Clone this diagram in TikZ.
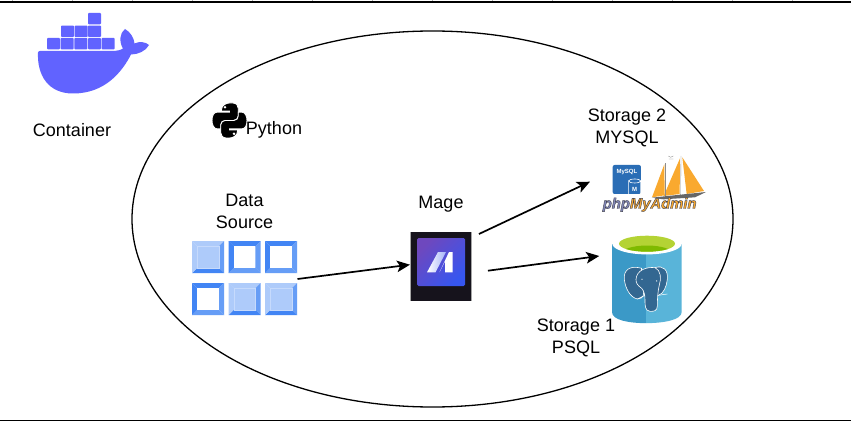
\documentclass[tikz,border=0pt]{standalone}
\usepackage{fontspec}
\setmainfont{Liberation Sans}
\usetikzlibrary{arrows.meta,calc,shapes.geometric}
\definecolor{dockerblue}{HTML}{6163FF}
\definecolor{gA}{HTML}{4285F4}
\definecolor{gB}{HTML}{669DF6}
\definecolor{gC}{HTML}{AECBFA}
\definecolor{gD}{HTML}{C6DAFC}
\definecolor{mageblack}{HTML}{16131C}
\definecolor{mageA}{HTML}{6E48BE}
\definecolor{mageB}{HTML}{3656F0}
\definecolor{pgleft}{HTML}{3B99C7}
\definecolor{pgright}{HTML}{59B4D9}
\definecolor{pgtop}{HTML}{B4D334}
\definecolor{pgtopd}{HTML}{7FBA00}
\definecolor{pgel}{HTML}{336791}
\definecolor{sail}{HTML}{F9A92F}
\definecolor{mysqlblue}{HTML}{2A6DB5}
\newcommand{\bevelsq}[7]{%
  \fill[#3] (#1,#2) -- ++(32,0) -- ++(-5.3,5.3) -- ++(-21.4,0) -- cycle;
  \fill[#4] (#1+32,#2) -- ++(0,32) -- ++(-5.3,-5.3) -- ++(0,-21.4) -- cycle;
  \fill[#5] (#1+32,#2+32) -- ++(-32,0) -- ++(5.3,-5.3) -- ++(21.4,0) -- cycle;
  \fill[#6] (#1,#2+32) -- ++(0,-32) -- ++(5.3,5.3) -- ++(0,21.4) -- cycle;
  \fill[#7] (#1+5.3,#2+5.3) rectangle ++(21.4,21.4);
}
\newcommand{\outlined}{\special{pdf:code 2 Tr 0.45 w 0.27 0.27 0.32 RG}}
\tikzset{
  lbl/.style={font=\fontsize{18}{22}\selectfont,align=center,inner sep=0pt,text=black},
  conn/.style={draw=black,line width=1.7pt,-{Stealth[length=13pt,width=11.5pt,inset=3pt]}},
  rule/.style={draw=black,line width=1.7pt},
  icon/.style={inner sep=0pt,outer sep=0pt,draw=none},
}
\begin{document}
\begin{tikzpicture}[x=1pt,y=-1pt]
\useasboundingbox (0,0) rectangle (851,422);
\fill[white] (0,0) rectangle (851,422);
% rules
\draw[rule] (0,1.9) -- (851,1.9);
\draw[rule] (0,420.6) -- (851,420.6);
\foreach \t in {12,72,...,852} \draw[gray!60,line width=.5pt] (\t,0) -- (\t,1);
% ellipse
\node[icon,draw=black,line width=1.3pt,ellipse,minimum width=601pt,minimum height=376pt] (pod) at (432.5,219) {};
% docker
\begin{scope}
\foreach \a/\b in {88/13, 61/25.7,74.6/25.7,88/25.7, 47/38,60.6/38,74.4/38,88/38,101.6/38}
  \fill[dockerblue,rounded corners=.8pt] (\a,\b) rectangle ++(13,11.3);
\fill[dockerblue] (38,52.5) .. controls (38,51.5) and (39,51) .. (40,51) -- (112,51) .. controls (117,51) and (121,50) .. (123,48.5)
  .. controls (119,42) and (119.5,33) .. (125,29)
  .. controls (130.5,32) and (134,38) .. (134.5,43.5)
  .. controls (139,41) and (146,42) .. (149,45)
  .. controls (146,51) and (138,54.5) .. (131,54.5)
  .. controls (122,72) and (105,93.5) .. (73,93.5)
  .. controls (48,93.5) and (37,75) .. (38,52.5) -- cycle;
\end{scope}
\node[lbl] (container) at (72,130) {Container};
% python
\begin{scope}[shift={(212,103)},x=35pt,y=-35pt]
\foreach \s in {0,1}{
\begin{scope}[shift={(\s,\s)},xscale={1-2*\s},yscale={1-2*\s}]
\filldraw[black,draw=white,line width=.9pt] (.27,.2) .. controls (.27,.05) and (.42,0) .. (.5,0) -- (.6,0)
  .. controls (.7,0) and (.75,.08) .. (.75,.15) -- (.75,.38)
  .. controls (.75,.46) and (.68,.5) .. (.62,.5) -- (.38,.5)
  .. controls (.3,.5) and (.25,.56) .. (.25,.63) -- (.25,.74) -- (.15,.74)
  .. controls (.05,.74) and (0,.62) .. (0,.5)
  .. controls (0,.36) and (.05,.26) .. (.15,.26) -- (.5,.26) -- (.5,.23) -- (.27,.23) -- cycle;
\fill[white] (.37,.12) circle (.04);
\end{scope}}
\end{scope}
\node[lbl] (python) at (274,130) {Python};
% data source
\node[lbl] (datalbl) at (244.5,211) {Data\\Source};
\node[icon,minimum width=105pt,minimum height=74pt] (data) at (244.5,278) {};
\bevelsq{192}{241}{gC}{gB}{gA}{gC}{gC}
\bevelsq{228.7}{241}{gA}{gB}{gB}{gA}{white}
\bevelsq{265}{241}{gA}{gB}{gB}{gA}{white}
\bevelsq{192}{283}{gA}{gB}{gB}{gA}{white}
\bevelsq{228.7}{283}{gC}{gB}{gA}{gC}{gC}
\bevelsq{265}{283}{gC}{gB}{gA}{gC}{gC}
\foreach \a/\b in {192/241,228.7/283,265/283}
  \draw[gD,line width=.4pt] (\a+5.3,\b+5.3) rectangle ++(21.4,21.4);
% mage
\node[lbl] (magelbl) at (441,204.5) {Mage};
\node[icon,fill=mageblack,minimum width=61.5pt,minimum height=69pt] (mage) at (440.7,266.5) {};
\fill[gray!70] (409.5,232) rectangle (411,301);
\fill[gray!70] (471,232) rectangle (471.7,301);
\shade[rounded corners=1.5pt,left color=mageA,right color=mageB,shading angle=45] (417,238) rectangle (465,286);
\shade[left color=white,right color=white!55!mageB] (427,272.3) -- (435.5,272.3) -- (446,252) -- (438,252) -- cycle;
\fill[white] (439.5,272.3) -- (449,252) -- (452.7,252) -- (452.7,272.3) -- (445,272.3) -- (445,261.5) -- cycle;
% storage 2
\node[lbl] (s2lbl) at (627,127.5) {Storage 2\\MYSQL};
\node[icon,minimum width=92pt,minimum height=56pt] (mysql) at (650,185) {};
\begin{scope}[shift={(530,120)},x=.3333pt,y=-.3333pt]
\fill[mysqlblue,rounded corners=2pt] (248,135) rectangle (333,222);
\node[icon,text=white,font=\bfseries\fontsize{6}{6}\selectfont] (mysqltxt) at (291,155) {MySQL};
\draw[white,line width=.6pt] (296,222) -- (296,183) arc[start angle=180,end angle=0,x radius=18,y radius=6] -- (332,222);
\draw[white,line width=.6pt] (296,183) arc[start angle=180,end angle=360,x radius=18,y radius=6];
\node[icon,text=white,font=\bfseries\fontsize{6}{6}\selectfont] (mysqlm) at (314,207) {M};
% ship
\fill[sail] (403,133) -- (366,232) -- (404,226) -- cycle;
\fill[sail] (450,115) -- (401,228) -- (449,222) -- cycle;
\fill[sail] (457,112) -- (522,213) -- (470,222) -- cycle;
\draw[black!45,line width=.35pt] (453,108) -- (452,228);
\draw[black!45,line width=.3pt] (405,130) -- (405,230);
\fill[black!60] (366,233) -- (528,216) -- (495,232) -- (400,238) -- cycle;
\draw[black!50,line width=.3pt] (415,108) -- (422,112) -- (430,108) (417,117) -- (430,117);
\node[icon,font=\bfseries\itshape\fontsize{14.8}{15}\selectfont] (pma) at (359,254)
  {\textcolor[HTML]{8288B8}{\outlined php}\textcolor{sail}{\outlined MyAdmin}\special{pdf:code 0 Tr}};
\end{scope}
% storage 1
\node[lbl] (s1lbl) at (576,338) {Storage 1\\PSQL};
\node[icon,minimum width=69.5pt,minimum height=89pt] (pg) at (647,278.5) {};
\fill[pgleft] (612,244) -- (646,244) -- (646,323.2) .. controls (628,323) and (612,320) .. (612,312) -- cycle;
\fill[pgright] (646,244) -- (681.7,244) -- (681.7,312) .. controls (681.7,320) and (664,323) .. (646,323.2) -- cycle;
\fill[white] (647,243.8) ellipse[x radius=34.7,y radius=10.6];
\begin{scope}
\clip (647,243.7) ellipse[x radius=28,y radius=8];
\fill[pgtop] (615,230) rectangle (680,255);
\fill[pgtopd] (647,254) ellipse[x radius=26,y radius=8.5];
\end{scope}
\begin{scope}[shift={(530,220)},x=.3333pt,y=-.3333pt]
\filldraw[pgel,draw=white,line width=.6pt] (335,145) .. controls (300,135) and (280,150) .. (283,178)
  .. controls (286,205) and (300,232) .. (322,237) .. controls (340,236) and (345,225) .. (338,205)
  .. controls (330,185) and (330,165) .. (335,145) -- cycle;
\filldraw[pgel,draw=white,line width=.6pt] (375,143) .. controls (400,135) and (415,150) .. (412,178)
  .. controls (410,200) and (400,222) .. (385,226) -- (370,220) -- cycle;
\filldraw[pgel,draw=white,line width=.6pt] (318,178) .. controls (320,150) and (350,140) .. (375,143)
  .. controls (392,150) and (395,175) .. (388,195)
  .. controls (383,215) and (382,240) .. (382,258)
  .. controls (382,272) and (372,275) .. (360,274)
  .. controls (345,272) and (345,258) .. (345,240)
  .. controls (345,225) and (342,212) .. (335,205)
  .. controls (322,195) and (318,190) .. (318,178) -- cycle;
\draw[white,line width=.5pt] (322,237) -- (345,226) (385,226) -- (412,222);
\fill[white] (336,178) circle (2) (380,183) circle (2);
\end{scope}
% connectors
\coordinate (a1) at ($(data.east)+(0.5,1)$);
\coordinate (a2) at ($(mage.west)+(0,-1.8)$);
\coordinate (b1) at ($(mage.north east)+(7.5,2)$);
\coordinate (b2) at ($(mysql.west)+(-14,-3.3)$);
\coordinate (c1) at ($(mage.east)+(16.5,4.2)$);
\coordinate (c2) at ($(pg.west)+(-13,-22.5)$);
\draw[conn] (a1) -- (a2);
\draw[conn] (b1) -- (b2);
\draw[conn] (c1) -- (c2);
\end{tikzpicture}
\end{document}
